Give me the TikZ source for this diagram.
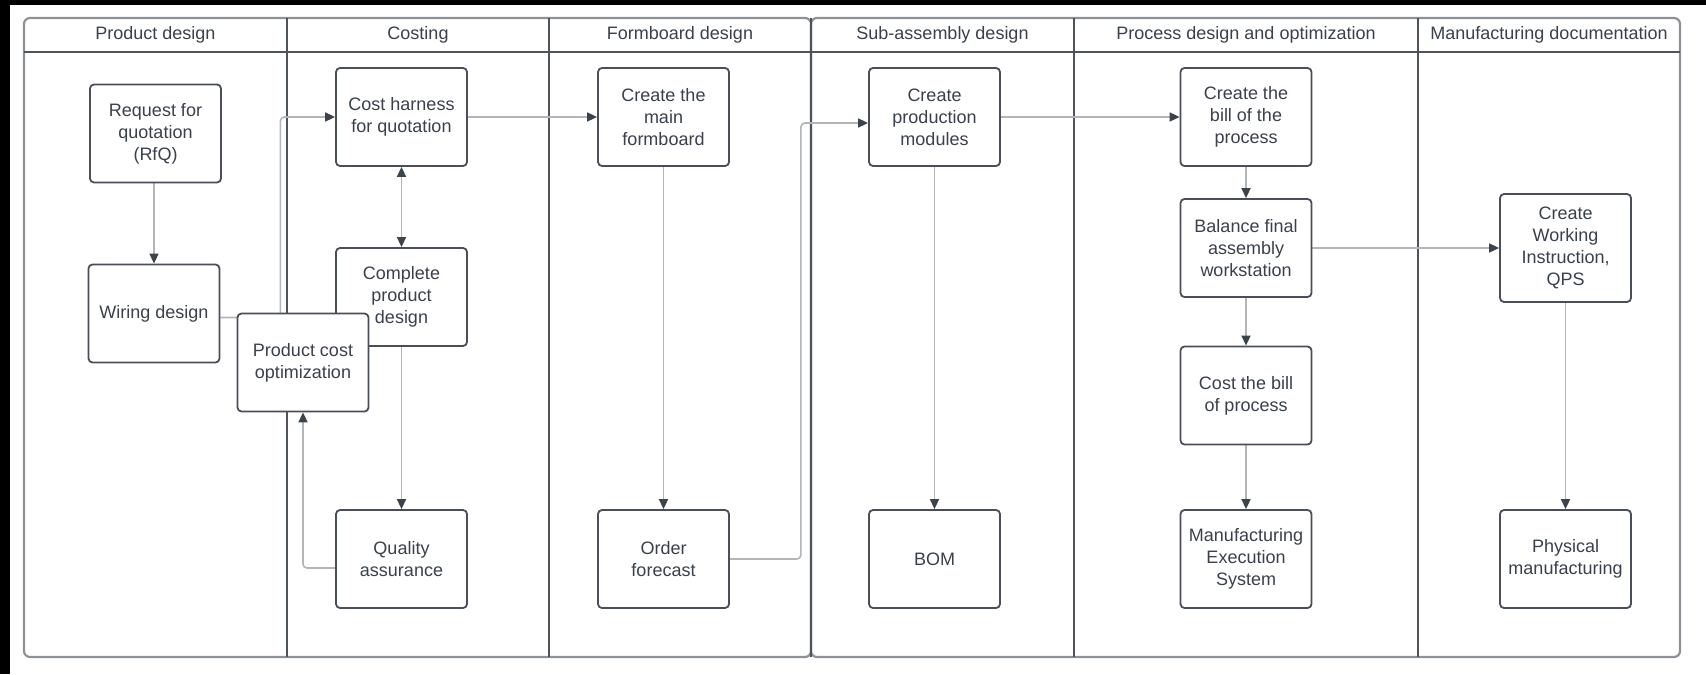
\documentclass[tikz,border=0pt]{standalone}
\usepackage{fontspec}
\setmainfont{Liberation Sans}
\usepackage{xcolor}
\usepackage{tikz}
\usetikzlibrary{
    positioning,
    arrows.meta,
    calc
}

\definecolor{txtgray}{HTML}{3A414A}
\definecolor{boxline}{HTML}{4A4F57}
\definecolor{lanegray}{HTML}{4F535A}
\definecolor{framegray}{HTML}{8E9196}
\definecolor{edgegray}{HTML}{B3B5B8}
\definecolor{tipgray}{HTML}{3D434B}

\pgfdeclarelayer{lanes}
\pgfdeclarelayer{edges}
\pgfsetlayers{lanes,edges,main}

\begin{document}
\begin{tikzpicture}[x=0.5pt, y=-0.5pt,
    font=\fontsize{9pt}{11pt}\selectfont, text=txtgray,
    task/.style={draw=boxline, line width=0.9pt, fill=white, rounded corners=2pt,
                 minimum width=65.5pt, minimum height=49pt, align=center, inner sep=2pt},
    tall/.style={task, minimum height=54pt},
    lanehead/.style={inner sep=0pt},
    pool/.style={draw=framegray, line width=1.1pt, rounded corners=3pt},
    divider/.style={draw=lanegray, line width=1.3pt},
    flow/.style={draw=edgegray, line width=0.8pt, rounded corners=2pt,
                 -{Triangle[length=5pt, width=4.5pt, color=tipgray]}},
    dflow/.style={flow, {Triangle[length=5pt, width=4.5pt, color=tipgray]}-{Triangle[length=5pt, width=4.5pt, color=tipgray]}}]

    \useasboundingbox (0,0) rectangle (1706,674);

    % ============ POOLS AND LANES ============
    \begin{pgfonlayer}{lanes}
      \fill[black] (0,0) rectangle (1706,674);
      \fill[white] (10,5) rectangle (1706,674);
      \draw[pool] (24,18) rectangle (811,657);
      \draw[pool] (811,18) rectangle (1680,657);
      \draw[divider] (24,52) -- (1680,52);
      \draw[divider] (287,18) -- (287,657);
      \draw[divider] (549,18) -- (549,657);
      \draw[divider] (811,18) -- (811,657);
      \draw[divider] (1074,18) -- (1074,657);
      \draw[divider] (1418,18) -- (1418,657);
    \end{pgfonlayer}

    \node[lanehead] (hPD) at (155.5,35) {Product design};
    \node[lanehead] (hCO) at (418,35)   {Costing};
    \node[lanehead] (hFB) at (680,35)   {Formboard design};
    \node[lanehead] (hSA) at (942.5,35) {Sub-assembly design};
    \node[lanehead] (hPR) at (1246,35)  {Process design and optimization};
    \node[lanehead] (hMD) at (1549,35)  {Manufacturing documentation};

    % ============ PRODUCT DESIGN AND COSTING ============
    \node[task] (RfQ) at (155.5,133.5) {Request for\\quotation\\(RfQ)};
    \node[task] (WD)  at (154,313.5)   {Wiring design};
    \node[task] (CH)  at (401.5,117)   {Cost harness\\for quotation};
    \node[task] (CPD) at (401.5,297)   {Complete\\product\\design};
    \node[task] (QA)  at (401.5,559)   {Quality\\assurance};
    \node[task] (PCO) at (303,362.5)   {Product cost\\optimization};

    % ============ FORMBOARD AND SUB-ASSEMBLY ============
    \node[task] (MF)  at (663.5,117) {Create the\\main\\formboard};
    \node[task] (OF)  at (663.5,559) {Order\\forecast};
    \node[task] (PM)  at (934.5,117) {Create\\production\\modules};
    \node[task] (BOM) at (934.5,559) {BOM};

    % ============ PROCESS AND DOCUMENTATION ============
    \node[task] (BP)  at (1246,117)   {Create the\\bill of the\\process};
    \node[task] (BF)  at (1246,248)   {Balance final\\assembly\\workstation};
    \node[task] (CB)  at (1246,395.5) {Cost the bill\\of process};
    \node[task] (MES) at (1246,559)   {Manufacturing\\Execution\\System};
    \node[tall] (WI)  at (1565.5,248) {Create\\Working\\Instruction,\\QPS};
    \node[task] (PHY) at (1565.5,559) {Physical\\manufacturing};

    % connectors run under the boxes
    \begin{pgfonlayer}{edges}
      \draw[flow] (RfQ.south -| WD.north) -- (WD.north);
      \draw[flow] ([yshift=-2pt]WD.east) -- ++(60,0) |- (CH.west);
      \draw[dflow] (CH.south) -- (CPD.north);
      \draw[flow] (CPD.south) -- (QA.north);
      \draw[flow] ([yshift=-4.5pt]QA.west) -| (PCO.south);
      \draw[flow] (CH.east) -- (MF.west);
      \draw[flow] (MF.south) -- (OF.north);
      \draw[flow] (OF.east) -- ++(71,0) |- ([yshift=-3pt]PM.west);
      \draw[flow] (PM.east) -- (BP.west);
      \draw[flow] (PM.south) -- (BOM.north);
      \draw[flow] (BP.south) -- (BF.north);
      \draw[flow] (BF.east) -- (WI.west);
      \draw[flow] (BF.south) -- (CB.north);
      \draw[flow] (CB.south) -- (MES.north);
      \draw[flow] (WI.south) -- (PHY.north);
    \end{pgfonlayer}

\end{tikzpicture}
\end{document}
